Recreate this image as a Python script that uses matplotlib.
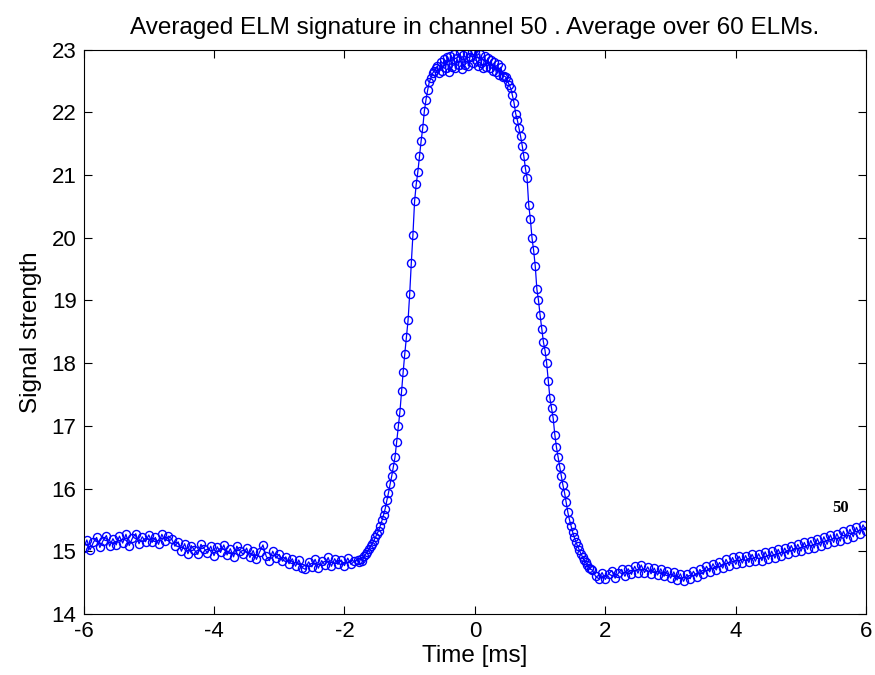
import numpy as np
import matplotlib
matplotlib.use("Agg")
import matplotlib.pyplot as plt

# averaged ELM signal, channel 50
# baseline before the ELM, t = -6.00 ... -1.85, step 0.05
sig_pre = [15.05, 15.18, 15.02, 15.14, 15.22, 15.06, 15.17, 15.25, 15.08, 15.20,
           15.10, 15.24, 15.13, 15.27, 15.09, 15.21, 15.28, 15.12, 15.23, 15.15,
           15.26, 15.14, 15.22, 15.11, 15.27, 15.16, 15.24, 15.20, 15.08, 15.15,
           15.00, 15.12, 14.96, 15.09, 15.02, 14.95, 15.11, 15.04, 14.97, 15.08,
           14.93, 15.07, 14.98, 15.10, 14.94, 15.04, 14.91, 15.08, 15.00, 14.95,
           15.05, 14.90, 15.01, 14.87, 14.99, 15.10, 14.92, 14.85, 15.00, 14.89,
           14.95, 14.84, 14.91, 14.80, 14.88, 14.76, 14.86, 14.74, 14.71, 14.83,
           14.75, 14.87, 14.73, 14.85, 14.78, 14.90, 14.76, 14.88, 14.79, 14.86,
           14.77, 14.89, 14.79, 14.84]

# the ELM itself, t = -1.800 ... 1.775, step 0.025
sig_elm = [14.86, 14.82, 14.88, 14.84, 14.92, 14.95, 14.99, 15.03, 15.08, 15.12,
           15.17, 15.22, 15.28, 15.33, 15.41, 15.49, 15.58, 15.68, 15.81, 15.93,
           16.07, 16.20, 16.35, 16.50, 16.74, 16.99, 17.22, 17.55, 17.86, 18.15,
           18.42, 18.68, 19.10, 19.60, 20.05, 20.58, 20.85, 21.05, 21.30, 21.54,
           21.75, 22.02, 22.20, 22.35, 22.48, 22.55, 22.62, 22.66, 22.70, 22.74,
           22.62, 22.81, 22.66, 22.85, 22.70, 22.88, 22.64, 22.90, 22.72, 22.93,
           22.70, 22.86, 22.75, 22.94, 22.69, 22.91, 22.76, 22.95, 22.74, 22.89,
           22.96, 22.78, 22.97, 22.82, 22.74, 22.93, 22.78, 22.70, 22.90, 22.73,
           22.86, 22.70, 22.83, 22.66, 22.80, 22.64, 22.77, 22.60, 22.72, 22.57,
           22.58, 22.56, 22.50, 22.44, 22.38, 22.27, 22.15, 21.98, 21.88, 21.75,
           21.62, 21.47, 21.30, 21.10, 20.95, 20.52, 20.30, 20.00, 19.80, 19.55,
           19.18, 19.00, 18.76, 18.55, 18.34, 18.20, 18.00, 17.72, 17.44, 17.28,
           17.12, 16.86, 16.66, 16.50, 16.35, 16.20, 16.05, 15.93, 15.78, 15.62,
           15.50, 15.40, 15.30, 15.22, 15.14, 15.08, 15.02, 14.96, 14.91, 14.86,
           14.82, 14.78, 14.74, 14.71]

# recovery after the ELM, t = 1.80 ... 6.00, step 0.05
sig_post = [14.70, 14.60, 14.56, 14.66, 14.55, 14.64, 14.69, 14.57, 14.65, 14.71,
            14.60, 14.72, 14.63, 14.76, 14.65, 14.78, 14.66, 14.75, 14.64, 14.73,
            14.62, 14.72, 14.60, 14.69, 14.57, 14.67, 14.54, 14.64, 14.52, 14.63,
            14.56, 14.68, 14.59, 14.71, 14.63, 14.76, 14.67, 14.80, 14.70, 14.82,
            14.73, 14.87, 14.77, 14.90, 14.79, 14.92, 14.81, 14.93, 14.82, 14.95,
            14.84, 14.96, 14.85, 14.99, 14.87, 15.00, 14.89, 15.03, 14.92, 15.05,
            14.95, 15.09, 14.98, 15.11, 15.00, 15.14, 15.03, 15.17, 15.05, 15.20,
            15.08, 15.23, 15.11, 15.26, 15.14, 15.28, 15.16, 15.32, 15.20, 15.35,
            15.23, 15.38, 15.27, 15.42, 15.33]

t_pre = np.round(np.arange(len(sig_pre)) * 0.05 - 6.0, 3)
t_elm = np.round(np.arange(len(sig_elm)) * 0.025 - 1.8, 3)
t_post = np.round(np.arange(len(sig_post)) * 0.05 + 1.8, 3)

time = np.concatenate([t_pre, t_elm, t_post])
signal = np.concatenate([sig_pre, sig_elm, sig_post])

channel = 50
n_elms = 60

matplotlib.rcParams["font.family"] = ["Liberation Sans", "DejaVu Sans"]
matplotlib.rcParams["axes.unicode_minus"] = False

fig = plt.figure(figsize=(8.75, 6.75), dpi=100)
ax = fig.add_axes([0.0955, 0.0905, 0.8945, 0.8360])

ax.plot(time, signal, color=(0, 0, 1), linewidth=0.9, marker='o',
        markersize=5.8, markerfacecolor='none', markeredgecolor=(0, 0, 1),
        markeredgewidth=1.0)

ax.text(5.48, 15.63, str(channel), fontsize=12, fontweight='bold',
        family='Liberation Serif')

ax.set_xlim(-6, 6)
ax.set_ylim(14, 23)
ax.set_xticks(np.arange(-6, 7, 2))
ax.set_yticks(np.arange(14, 24, 1))
ax.tick_params(direction='in', length=6, width=0.8, top=True, right=True,
               labelsize=16, pad=5)
for sp in ax.spines.values():
    sp.set_linewidth(0.8)

ax.set_xlabel('Time [ms]', fontsize=17.5, labelpad=2)
ax.set_ylabel('Signal strength', fontsize=17.5, labelpad=7)
ax.set_title(f'Averaged ELM signature in channel {channel} . Average over {n_elms} ELMs.',
             fontsize=17.5, pad=11)

fig.savefig('out.png', dpi=100)
